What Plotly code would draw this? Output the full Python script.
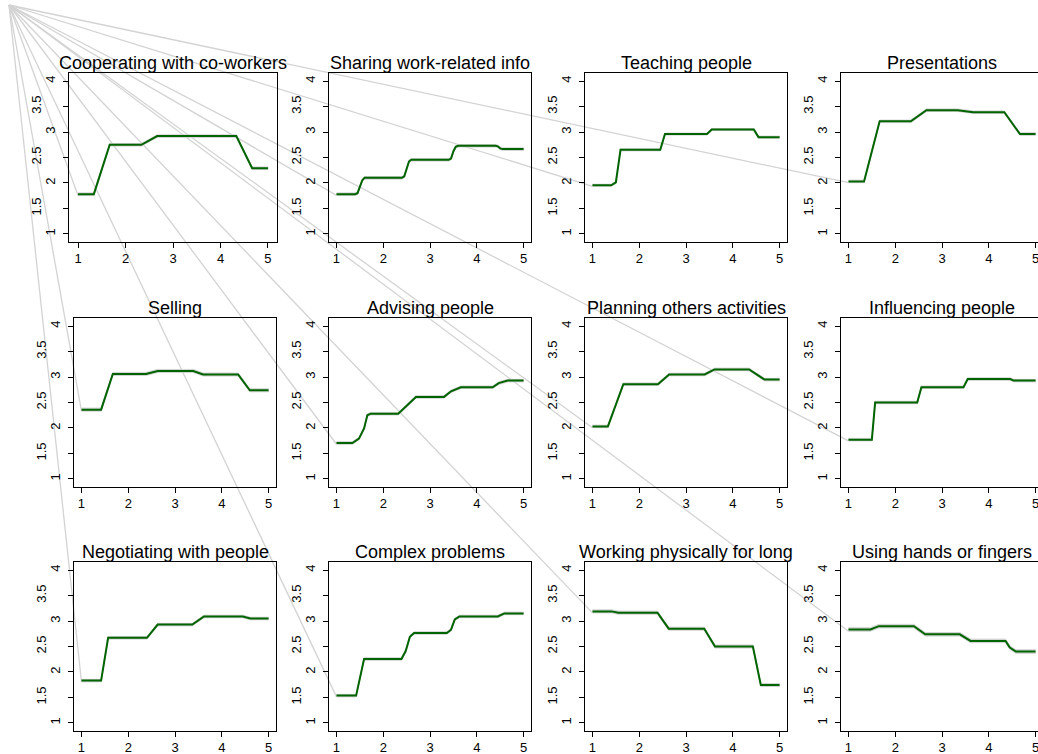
import plotly.graph_objects as go

W, H = 1038, 754

titles = [
    "Cooperating with co-workers", "Sharing work-related info", "Teaching people", "Presentations",
    "Selling", "Advising people", "Planning others activities", "Influencing people",
    "Negotiating with people", "Complex problems", "Working physically for long", "Using hands or fingers",
]

thirds = [1, 1.333, 1.667, 2, 2.333, 2.667, 3, 3.333, 3.667, 4, 4.333, 4.667, 5]

x_coop = thirds
y_coop = [1.78, 1.78, 2.75, 2.75, 2.75, 2.92, 2.92, 2.92, 2.92, 2.92, 2.92, 2.29, 2.29]

x_share = [1, 1.4, 1.45, 1.5, 1.55, 1.6, 2.4, 2.45, 2.5, 2.55, 2.6, 3.4, 3.45, 3.5, 3.55, 3.6, 4.4, 4.45, 4.5, 4.55, 5]
y_share = [1.78, 1.78, 1.80, 1.92, 2.05, 2.10, 2.10, 2.13, 2.28, 2.42, 2.455, 2.455, 2.48, 2.62, 2.71, 2.73, 2.73, 2.72, 2.68, 2.665, 2.665]

x_teach = [1, 1.4, 1.5, 1.6, 2.45, 2.55, 3.45, 3.55, 4.45, 4.55, 5]
y_teach = [1.955, 1.955, 2.01, 2.65, 2.65, 2.96, 2.96, 3.05, 3.05, 2.90, 2.90]

x_pres = thirds
y_pres = [2.03, 2.03, 3.21, 3.21, 3.21, 3.43, 3.43, 3.43, 3.39, 3.39, 3.39, 2.96, 2.96]

x_sell = [1, 1.42, 1.67, 2.38, 2.63, 3.39, 3.6, 4.35, 4.6, 5]
y_sell = [2.36, 2.36, 3.06, 3.06, 3.12, 3.12, 3.05, 3.05, 2.74, 2.74]

x_advi = [1, 1.34, 1.48, 1.59, 1.66, 1.73, 2.32, 2.55, 2.70, 3.30, 3.45, 3.66, 4.34, 4.47, 4.66, 5]
y_advi = [1.705, 1.705, 1.79, 1.99, 2.25, 2.28, 2.28, 2.48, 2.61, 2.61, 2.72, 2.80, 2.80, 2.88, 2.93, 2.93]

x_plan = [1, 1.33, 1.66, 2.40, 2.64, 3.40, 3.61, 4.35, 4.68, 5]
y_plan = [2.03, 2.03, 2.86, 2.86, 3.05, 3.05, 3.15, 3.15, 2.95, 2.95]

x_infl = [1, 1.50, 1.57, 2.47, 2.56, 3.46, 3.55, 4.46, 4.53, 5]
y_infl = [1.77, 1.77, 2.50, 2.50, 2.80, 2.80, 2.96, 2.96, 2.93, 2.93]

x_nego = [1, 1.42, 1.57, 2.40, 2.63, 3.37, 3.62, 4.45, 4.61, 5]
y_nego = [1.83, 1.83, 2.67, 2.67, 2.93, 2.93, 3.09, 3.09, 3.05, 3.05]

x_comp = [1, 1.42, 1.59, 2.39, 2.48, 2.57, 2.66, 3.36, 3.45, 3.53, 3.63, 4.45, 4.59, 5]
y_comp = [1.535, 1.535, 2.255, 2.255, 2.41, 2.69, 2.765, 2.765, 2.83, 3.03, 3.09, 3.09, 3.15, 3.15]

x_work = [1, 1.41, 1.55, 2.39, 2.63, 3.39, 3.62, 4.43, 4.60, 5]
y_work = [3.19, 3.19, 3.165, 3.165, 2.85, 2.85, 2.50, 2.50, 1.745, 1.745]

x_hand = [1, 1.47, 1.65, 2.40, 2.64, 3.38, 3.61, 4.36, 4.45, 4.58, 5]
y_hand = [2.835, 2.835, 2.90, 2.90, 2.74, 2.74, 2.61, 2.61, 2.48, 2.40, 2.40]

band_se = [0.025, 0.025, 0.02, 0.025, 0.03, 0.025, 0.025, 0.025, 0.025, 0.025, 0.03, 0.035]

xs = [x_coop, x_share, x_teach, x_pres, x_sell, x_advi, x_plan, x_infl, x_nego, x_comp, x_work, x_hand]
ys = [y_coop, y_share, y_teach, y_pres, y_sell, y_advi, y_plan, y_infl, y_nego, y_comp, y_work, y_hand]

x_ticks = [1, 2, 3, 4, 5]
y_ticks_int = [1, 2, 3, 4]
y_text_int = ["1", "2", "3", "4"]
y_ticks_half = [1.5, 2.5, 3.5]
y_text_half = ["1.5", "2.5", "3.5"]

# ---- layout geometry (pixels) ----
col_left = [74, 329, 585, 841]
row_top = [73, 318, 562]
pw, ph = 202, 169
XR = [0.84, 5.16]
YR = [0.84, 4.16]
# the first panel is drawn slightly wider in the original
first_left, first_w, first_xr = 69, 208, [0.81, 5.19]
FONT = "Liberation Sans, Arial, sans-serif"
GREEN = "#006400"
GREY = "#d3d3d3"

fig = go.Figure()
origin = (9, 5)  # px, top-left corner the grey artefact lines start from

for i in range(12):
    r, c = divmod(i, 4)
    n = i + 1
    xa = "x" if n == 1 else f"x{n}"
    ya = "y" if n == 1 else f"y{n}"
    ya2 = f"y{n + 12}"
    if i == 0:
        left, width, base_xr = first_left, first_w, first_xr
    else:
        left, width, base_xr = col_left[c], pw, XR
    right = min(left + width, W)
    xr = [base_xr[0], base_xr[0] + (right - left) / width * (base_xr[1] - base_xr[0])]
    top = row_top[r]
    bottom = top + ph
    xdom = [left / W, right / W]
    ydom = [1 - bottom / H, 1 - top / H]

    x = xs[i]
    y = ys[i]
    se = band_se[i]
    lo = [v - se for v in y]
    hi = [v + se for v in y]

    fig.add_trace(go.Scatter(x=x + x[::-1], y=hi + lo[::-1], fill="toself", fillcolor=GREY,
                             line=dict(color=GREY, width=1), mode="lines", hoverinfo="skip",
                             showlegend=False, xaxis=xa, yaxis=ya))
    fig.add_trace(go.Scatter(x=x, y=y, mode="lines", line=dict(color=GREEN, width=2),
                             showlegend=False, xaxis=xa, yaxis=ya2))

    tickstyle = dict(showgrid=False, zeroline=False, ticks="outside", ticklen=5, tickwidth=1,
                     tickcolor="black", tickfont=dict(family=FONT, size=13, color="black"))
    fig.layout[("xaxis" if n == 1 else f"xaxis{n}")] = dict(
        domain=xdom, range=xr, anchor=ya, tickvals=x_ticks, ticklabelstandoff=-1,
        ticklabeloverflow="allow", showline=True, linecolor="black", linewidth=1,
        mirror=True, **tickstyle)
    fig.layout[("yaxis" if n == 1 else f"yaxis{n}")] = dict(
        domain=ydom, range=YR, anchor=xa, tickvals=y_ticks_int, ticktext=y_text_int,
        tickangle=-90, ticklabelstandoff=3, showline=True, linecolor="black", linewidth=1,
        mirror=(right == left + width), **tickstyle)
    # half-unit labels sit one step further from the axis, as in the original
    fig.layout[f"yaxis{n + 12}"] = dict(
        overlaying=ya, range=YR, anchor=xa, side="left", tickvals=y_ticks_half,
        ticktext=y_text_half, tickangle=-90, ticklabelstandoff=17, showline=False, **tickstyle)

    fig.add_annotation(text=titles[i], x=(left + width / 2) / W, y=ydom[1], xref="paper", yref="paper",
                       xanchor="center", yanchor="bottom", showarrow=False, yshift=-2,
                       font=dict(family=FONT, size=18, color="black"))

    # grey artefact line from the corner to the start of the band
    px = left + (x[0] - xr[0]) / (xr[1] - xr[0]) * (right - left)
    py = bottom - (lo[0] - YR[0]) / (YR[1] - YR[0]) * ph
    fig.add_shape(type="line", xref="paper", yref="paper",
                  x0=origin[0] / W, y0=1 - origin[1] / H, x1=px / W, y1=1 - py / H,
                  line=dict(color=GREY, width=1.3), layer="below")

fig.update_layout(width=W, height=H, autosize=False, margin=dict(l=0, r=0, t=0, b=0),
                  paper_bgcolor="white", plot_bgcolor="rgba(0,0,0,0)", showlegend=False)

fig.write_html("out.html", config={"displayModeBar": False},
               post_script="document.body.style.margin='0';document.body.style.overflow='hidden';")
